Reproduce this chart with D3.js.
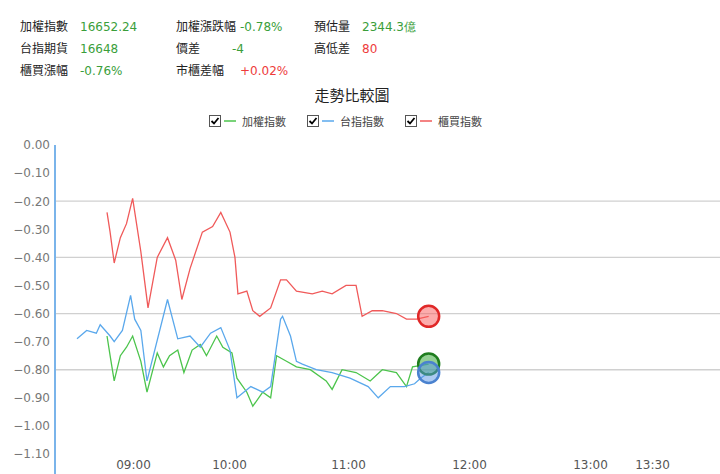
<!DOCTYPE html>
<html><head><meta charset="utf-8">
<script src="https://cdn.jsdelivr.net/npm/d3@7"></script>
<style>body{margin:0;background:#fff;font-family:"Noto Sans CJK TC","DejaVu Sans",sans-serif}</style>
</head><body><div class="chart"></div>
<script>
// minutes from 09:00
const blueTimes = [-15,-10,-5,-3,2,4,8,12,14,17,20,30,35,41,46,51,56,60.5,64,71,77,81,86,87,91,94,97,104,112,121,130,135,141,148,153,156,160];
const blueValues = [-0.69,-0.66,-0.67,-0.64,-0.68,-0.70,-0.66,-0.535,-0.62,-0.66,-0.84,-0.55,-0.69,-0.68,-0.72,-0.67,-0.65,-0.73,-0.90,-0.86,-0.88,-0.86,-0.62,-0.61,-0.68,-0.77,-0.78,-0.80,-0.81,-0.83,-0.86,-0.90,-0.86,-0.86,-0.85,-0.83,-0.81];
const greenTimes = [0.5,2,4,7,10,13,17,20,25,28,31,35,38,42,46,49,54,57,61.5,64,69,72,77,81,84,89,94,101,109,112,117,124,131,137,144,149,152,160];
const greenValues = [-0.68,-0.75,-0.84,-0.75,-0.72,-0.68,-0.77,-0.88,-0.74,-0.79,-0.75,-0.73,-0.81,-0.73,-0.71,-0.75,-0.68,-0.72,-0.74,-0.83,-0.88,-0.93,-0.88,-0.90,-0.75,-0.77,-0.79,-0.80,-0.84,-0.87,-0.80,-0.81,-0.84,-0.80,-0.81,-0.86,-0.79,-0.78];
const redTimes = [0.5,2,4,7,10,13,17,20.5,25,30,34,37,41,47,52,56,60.5,63,64.5,69,72,75.5,81,86,89,94,102,107,112,119,124,127,132,137,144,149,154,160];
const redValues = [-0.24,-0.31,-0.42,-0.33,-0.28,-0.19,-0.38,-0.58,-0.40,-0.33,-0.41,-0.55,-0.44,-0.31,-0.29,-0.24,-0.31,-0.40,-0.53,-0.52,-0.59,-0.61,-0.58,-0.48,-0.48,-0.52,-0.53,-0.52,-0.53,-0.50,-0.50,-0.61,-0.59,-0.59,-0.60,-0.62,-0.62,-0.61];
const xTickTimes = [0,60,120,180,240,270];
const xTickLabels = ["09:00","10:00","11:00","12:00","13:00","13:30"];
const yTicks = [0,-0.1,-0.2,-0.3,-0.4,-0.5,-0.6,-0.7,-0.8,-0.9,-1.0,-1.1];
const gridTicks = [-0.2,-0.4,-0.6,-0.8];
const infoRows = [
  [["加權指數","16652.24","g"],["加權漲跌幅","-0.78%","g"],["預估量","2344.3億","g"]],
  [["台指期貨","16648","g"],["價差","-4","g"],["高低差","80","r"]],
  [["櫃買漲幅","-0.76%","g"],["市櫃差幅","+0.02%","r"]]
];
const seriesNames = ["加權指數","台指指數","櫃買指數"];
const seriesColors = ["#4cc44c","#5aa8ec","#f05a5a"];

const W = 720, H = 474;
const svg = d3.select(".chart").append("svg").attr("width", W).attr("height", H);

// header info
const colX = [[20,80],[176,240],[314,362]];
infoRows.forEach((row, r) => row.forEach((c, i) => {
  svg.append("text").attr("x", colX[i][0]).attr("y", 31 + r * 22).attr("font-size", 12).attr("fill", "#222").text(c[0]);
  svg.append("text").attr("x", colX[i][1] + (i == 1 && r == 1 ? -8 : 0)).attr("y", 31 + r * 22).attr("font-size", 12)
    .attr("font-family", "DejaVu Sans").attr("fill", c[2] == "g" ? "#3a9e3a" : "#ee3b3b").text(c[1]);
}));

svg.append("text").attr("x", 352).attr("y", 101).attr("text-anchor", "middle").attr("font-size", 15).attr("fill", "#222").text("走勢比較圖");

// legend
const legX = [209, 307, 405];
seriesNames.forEach((n, i) => {
  const g = svg.append("g").attr("transform", `translate(${legX[i]},115)`);
  g.append("rect").attr("x", 0.5).attr("y", 0.5).attr("width", 11).attr("height", 11).attr("fill", "#fff").attr("stroke", "#555");
  g.append("path").attr("d", "M2.5,6 L5,8.5 L9.5,3").attr("fill", "none").attr("stroke", "#000").attr("stroke-width", 1.8);
  g.append("line").attr("x1", 15).attr("x2", 27).attr("y1", 6).attr("y2", 6).attr("stroke", seriesColors[i]).attr("stroke-width", 1.5);
  g.append("text").attr("x", 33).attr("y", 11).attr("font-size", 11).attr("fill", "#444").text(n);
});

// scales
const x = d3.scaleLinear().domain([-15, 0, 60, 120, 180, 240, 270]).range([77, 106, 229, 348, 469, 590, 652]);
const y = d3.scaleLinear().domain([0, -1.1]).range([145, 454]);

svg.append("g").selectAll("line").data(gridTicks).join("line")
  .attr("x1", 56).attr("x2", W).attr("y1", d => y(d)).attr("y2", d => y(d))
  .attr("stroke", "#d0d0d0").attr("stroke-width", 1.3);

const yAxis = svg.append("g").attr("transform", "translate(55,0)")
  .call(d3.axisLeft(y).tickValues(yTicks).tickFormat(d3.format(".2f")).tickSize(0).tickPadding(5));
yAxis.select(".domain").remove();
yAxis.selectAll("text").attr("font-size", 12).attr("fill", "#777").attr("font-family", "DejaVu Sans");
svg.append("line").attr("x1", 55).attr("x2", 55).attr("y1", 145).attr("y2", H).attr("stroke", "#7ab4ea").attr("stroke-width", 2);

const xAxis = svg.append("g").attr("transform", "translate(0,458)")
  .call(d3.axisBottom(x).tickValues(xTickTimes).tickFormat((d, i) => xTickLabels[i]).tickSize(0).tickPadding(2));
xAxis.select(".domain").remove();
xAxis.selectAll("text").attr("font-size", 12).attr("fill", "#555").attr("font-family", "DejaVu Sans")
  .attr("dx", (d, i) => i == 0 ? 27 : 0);

const line = d3.line().x(d => x(d[0])).y(d => y(d[1]));
const series = [
  [greenTimes, greenValues], [blueTimes, blueValues], [redTimes, redValues]
];
series.forEach((s, i) => {
  svg.append("path").datum(d3.zip(s[0], s[1])).attr("d", line)
    .attr("fill", "none").attr("stroke", seriesColors[i]).attr("stroke-width", 1.3);
});

const dotFill = ["rgba(60,170,60,0.55)", "rgba(90,150,230,0.5)", "rgba(250,90,90,0.5)"];
const dotStroke = ["#1f7d1f", "#4a82cf", "#e02828"];
series.forEach((s, i) => {
  const n = s[0].length - 1;
  svg.append("circle").attr("cx", x(s[0][n])).attr("cy", y(s[1][n])).attr("r", 10.5)
    .attr("fill", dotFill[i]).attr("stroke", dotStroke[i]).attr("stroke-width", 2.5);
});
</script></body></html>
